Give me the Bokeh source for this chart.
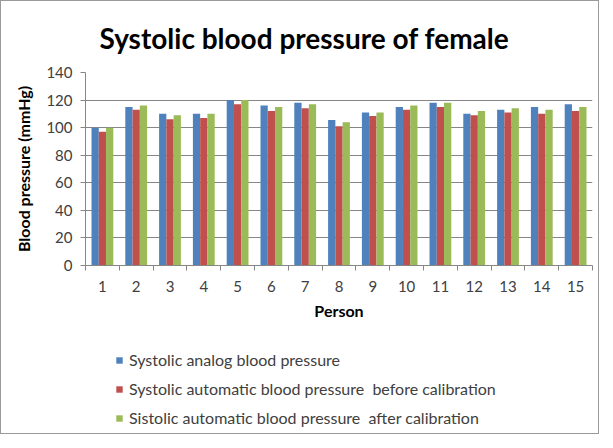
from bokeh.plotting import figure
from bokeh.layouts import column
from bokeh.models import ColumnDataSource, FixedTicker, Legend, LegendItem
from bokeh.transform import dodge
from bokeh.embed import file_html
from bokeh.resources import INLINE

persons = list(range(1, 16))
analog = [100, 115, 110, 110, 120, 116, 118, 105.5, 111, 115, 118, 110, 113, 115, 117]
before = [97, 113, 106, 107, 117, 112, 114, 101, 108.5, 113, 115, 109, 111, 110, 112]
after = [100, 116, 109, 110, 120, 115, 117, 104, 111, 116, 118, 112, 114, 113, 115]
y_ticks = [0, 20, 40, 60, 80, 100, 120, 140]
series_names = [
    "Systolic analog blood pressure",
    "Systolic automatic blood pressure  before calibration",
    "Sistolic automatic blood pressure  after calibration",
]
colors = ["#4F81BD", "#C0504D", "#9BBB59"]
series_cols = ["analog", "before", "after"]

src = ColumnDataSource(dict(x=persons, analog=analog, before=before, after=after))

FONT = "Lato"
GRID = "#868686"

p = figure(width=597, height=340, x_range=(0.5, 15.5), y_range=(0, 140),
           output_backend="svg", toolbar_location=None,
           min_border_left=84, min_border_right=6, min_border_top=71,
           min_border_bottom=76,
           title="Systolic blood pressure of female")
p.title.align = "left"
p.title.offset = 14
p.title.text_font = FONT
p.title.text_font_size = "28px"
p.title.text_font_style = "bold"
p.title.text_color = "#000000"
p.title.standoff = 35
p.outline_line_color = None

bw = 0.215
for off, col, c in zip([-bw, 0, bw], series_cols, colors):
    p.vbar(x=dodge("x", off, range=p.x_range), top=col, width=bw, source=src,
           fill_color=c, line_color=None)

# axes
p.xaxis.ticker = FixedTicker(ticks=persons, minor_ticks=[i + 0.5 for i in range(0, 16)])
p.xaxis.major_tick_line_color = None
p.xaxis.major_tick_out = 0
p.xaxis.major_tick_in = 0
p.xaxis.minor_tick_in = 0
p.xaxis.minor_tick_out = 5
p.xaxis.minor_tick_line_color = GRID
p.xaxis.axis_line_color = GRID
p.xaxis.major_label_standoff = 10
p.xaxis.major_label_text_font = FONT
p.xaxis.major_label_text_font_size = "15px"
p.xaxis.major_label_text_color = "#404040"
p.xaxis.axis_label = "Person"
p.xaxis.axis_label_text_font = FONT
p.xaxis.axis_label_text_font_size = "16px"
p.xaxis.axis_label_text_font_style = "bold"
p.xaxis.axis_label_text_color = "#000000"
p.xaxis.axis_label_standoff = 6

p.yaxis.ticker = FixedTicker(ticks=y_ticks, minor_ticks=[])
p.yaxis.major_tick_in = 0
p.yaxis.major_tick_out = 5
p.yaxis.major_tick_line_color = GRID
p.yaxis.axis_line_color = GRID
p.yaxis.major_label_standoff = 8
p.yaxis.major_label_text_font = FONT
p.yaxis.major_label_text_font_size = "15px"
p.yaxis.major_label_text_color = "#404040"
p.yaxis.axis_label = "Blood pressure (mmHg)"
p.yaxis.axis_label_text_font = FONT
p.yaxis.axis_label_text_font_size = "16px"
p.yaxis.axis_label_text_font_style = "bold"
p.yaxis.axis_label_text_color = "#000000"
p.yaxis.axis_label_standoff = 10

p.xgrid.grid_line_color = None
p.ygrid.grid_line_color = GRID
p.ygrid.grid_line_width = 1

# legend panel below the chart (its bars sit outside the visible ranges)
lg = figure(width=597, height=92, x_range=(-20, -19), y_range=(1000, 1001),
            output_backend="svg", toolbar_location=None,
            min_border_left=0, min_border_right=0, min_border_top=0,
            min_border_bottom=0)
lg.axis.visible = False
lg.grid.visible = False
lg.outline_line_color = None
items = []
for name, col, c in zip(series_names, series_cols, colors):
    r = lg.vbar(x="x", top=col, width=bw, source=src, fill_color=c, line_color=None)
    items.append(LegendItem(label=name, renderers=[r]))

legend = Legend(items=items, location=(30, 6), orientation="vertical",
                margin=0, padding=6, spacing=10,
                glyph_width=8, glyph_height=8, label_height=16,
                label_standoff=6,
                label_text_font=FONT, label_text_font_size="16px",
                label_text_color="#404040",
                border_line_color=None, background_fill_alpha=0)
lg.add_layout(legend)

layout = column(p, lg, spacing=0, styles={"border": "1px solid #9a9a9a"})

open("out.html", "w").write(file_html(layout, INLINE))
